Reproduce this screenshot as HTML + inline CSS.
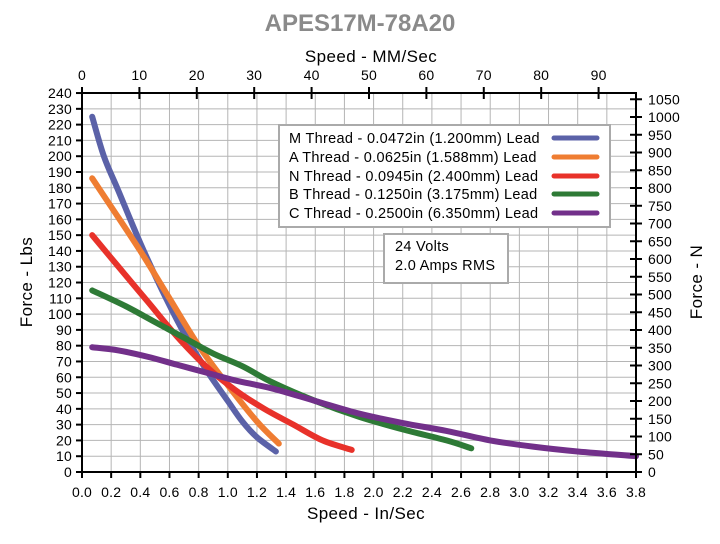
<!DOCTYPE html>
<html><head><meta charset="utf-8"><style>
body{margin:0;background:#fff;}
svg{display:block;font-family:"Liberation Sans",Arial,sans-serif;}
</style></head><body>
<svg width="720" height="544" viewBox="0 0 720 544" xmlns="http://www.w3.org/2000/svg">
<rect width="720" height="544" fill="#fff"/>
<text x="360" y="31" text-anchor="middle" font-size="24" font-weight="bold" fill="#8a8a8a">APES17M-78A20</text>
<text x="371" y="62" text-anchor="middle" font-size="17" letter-spacing="0.4">Speed - MM/Sec</text>
<text x="366" y="519" text-anchor="middle" font-size="17" letter-spacing="0.4">Speed - In/Sec</text>
<text transform="translate(32,282) rotate(-90)" text-anchor="middle" font-size="17" letter-spacing="0.4">Force - Lbs</text>
<text transform="translate(702,282) rotate(-90)" text-anchor="middle" font-size="17" letter-spacing="0.4">Force - N</text>
<g id="grid" stroke="#b5b5b5" stroke-width="1"></g>
<g id="curves" fill="none" stroke-width="6" stroke-linecap="round" stroke-linejoin="round"></g>
<rect x="82" y="93" width="554" height="379" fill="none" stroke="#000" stroke-width="2"/>
<g id="ticks" stroke="#000" stroke-width="2"></g>
<g id="labels" font-size="14" letter-spacing="0.2"></g>
<rect x="279" y="125" width="331" height="102" fill="#fff" stroke="#aaa" stroke-width="2"/>
<g font-size="14.5" letter-spacing="0.3">
<text x="289" y="143">M Thread - 0.0472in (1.200mm) Lead</text>
<text x="289" y="162">A Thread - 0.0625in (1.588mm) Lead</text>
<text x="289" y="181">N Thread - 0.0945in (2.400mm) Lead</text>
<text x="289" y="199">B Thread - 0.1250in (3.175mm) Lead</text>
<text x="289" y="218">C Thread - 0.2500in (6.350mm) Lead</text>
</g>
<g stroke-width="5" stroke-linecap="round">
<line x1="554" y1="138" x2="597" y2="138" stroke="#5b62a8"/>
<line x1="554" y1="157" x2="597" y2="157" stroke="#ef7d32"/>
<line x1="554" y1="176" x2="597" y2="176" stroke="#e8322a"/>
<line x1="554" y1="194" x2="597" y2="194" stroke="#2e7a36"/>
<line x1="554" y1="213" x2="597" y2="213" stroke="#72308a"/>
</g>
<rect x="384" y="234" width="124" height="49" fill="#fff" stroke="#aaa" stroke-width="2"/>
<text x="395" y="251" font-size="14.5" letter-spacing="0.3">24 Volts</text>
<text x="395" y="270" font-size="14.5" letter-spacing="0.3">2.0 Amps RMS</text>
</svg>
<script>
const NS="http://www.w3.org/2000/svg";
const X=v=>82+v*145.79, Y=v=>472-v*1.579;
function el(p,t,a,txt){const e=document.createElementNS(NS,t);for(const k in a)e.setAttribute(k,a[k]);if(txt!==undefined)e.textContent=txt;p.appendChild(e);return e;}
const g=document.getElementById('grid'),tk=document.getElementById('ticks'),lb=document.getElementById('labels'),cv=document.getElementById('curves');
for(let i=1;i<19;i++){const x=X(i*0.2);el(g,'line',{x1:x,y1:93,x2:x,y2:472});}
for(let i=1;i<24;i++){const y=Y(i*10);el(g,'line',{x1:82,y1:y,x2:636,y2:y});}
for(let i=0;i<=19;i++){const x=X(i*0.2);el(tk,'line',{x1:x,y1:472,x2:x,y2:478});el(lb,'text',{x:x,y:497,'text-anchor':'middle'},(i*0.2).toFixed(1));}
for(let i=0;i<=24;i++){const y=Y(i*10);el(tk,'line',{x1:76,y1:y,x2:82,y2:y});el(lb,'text',{x:72,y:y+5,'text-anchor':'end'},i*10);}
for(let i=0;i<=9;i++){const x=X(i*10/25.4);el(tk,'line',{x1:x,y1:87,x2:x,y2:99});el(lb,'text',{x:x,y:80,'text-anchor':'middle'},i*10);}
for(let i=0;i<=21;i++){const y=Y(i*50/4.448);el(tk,'line',{x1:630,y1:y,x2:642,y2:y});el(lb,'text',{x:648,y:y+5},i*50);}
const S=[
["#5b62a8",[[0.07,225],[0.15,200],[0.25,178],[0.4,145],[0.55,115],[0.7,88],[0.85,65],[1.0,45],[1.1,32],[1.2,22],[1.33,13]]],
["#ef7d32",[[0.07,186],[0.2,168],[0.4,140],[0.6,110],[0.8,80],[1.0,55],[1.2,32],[1.35,18]]],
["#e8322a",[[0.07,150],[0.25,130],[0.45,108],[0.65,86],[0.85,67],[1.05,52],[1.25,40],[1.45,30],[1.65,20],[1.85,14]]],
["#2e7a36",[[0.07,115],[0.3,105],[0.5,95],[0.7,85],[0.9,75],[1.1,67],[1.3,57],[1.6,45],[1.9,35],[2.2,27],[2.5,20],[2.67,15]]],
["#72308a",[[0.07,79],[0.25,77],[0.45,73],[0.65,68],[0.85,63],[1.05,58],[1.3,53],[1.6,45],[1.9,37],[2.2,31],[2.5,26],[2.8,20],[3.1,16],[3.4,13],[3.8,10]]]];
S.forEach(([c,p])=>{
 const P=p.map(q=>[X(q[0]),Y(q[1])]);
 let d='M'+P[0][0]+','+P[0][1];
 for(let i=0;i<P.length-1;i++){
  const p0=P[i-1]||P[i],p1=P[i],p2=P[i+1],p3=P[i+2]||P[i+1];
  const c1=[p1[0]+(p2[0]-p0[0])/6,p1[1]+(p2[1]-p0[1])/6];
  const c2=[p2[0]-(p3[0]-p1[0])/6,p2[1]-(p3[1]-p1[1])/6];
  d+=' C'+c1+' '+c2+' '+p2;
 }
 el(cv,'path',{stroke:c,d:d});
});
</script>
</body></html>
